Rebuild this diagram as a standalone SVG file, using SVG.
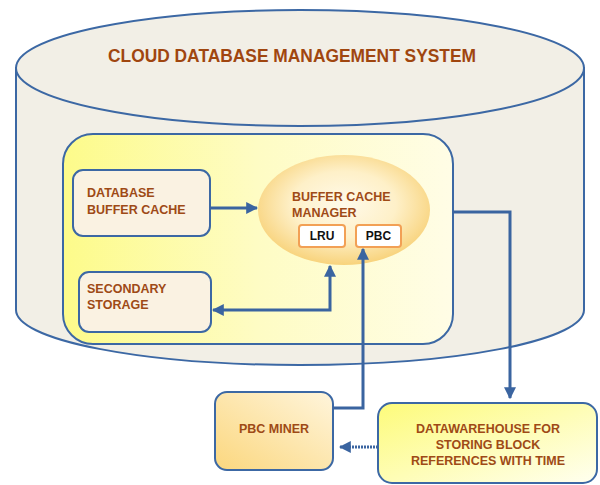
<svg xmlns="http://www.w3.org/2000/svg" width="600" height="485" viewBox="0 0 600 485">
<defs>
<linearGradient id="gInner" x1="0" y1="0" x2="1" y2="0">
<stop offset="0" stop-color="#fdfb8a"/>
<stop offset="0.5" stop-color="#fefcc4"/>
<stop offset="1" stop-color="#fffde6"/>
</linearGradient>
<radialGradient id="gEll" cx="0.5" cy="0.45" r="0.55">
<stop offset="0" stop-color="#fffaea"/>
<stop offset="0.55" stop-color="#fef0c8"/>
<stop offset="1" stop-color="#f8d37c"/>
</radialGradient>
<linearGradient id="gMiner" x1="0" y1="1" x2="1" y2="0">
<stop offset="0" stop-color="#fbd77e"/>
<stop offset="1" stop-color="#fff5dc"/>
</linearGradient>
<linearGradient id="gDW" x1="0" y1="0" x2="1" y2="1">
<stop offset="0" stop-color="#fdfb7a"/>
<stop offset="1" stop-color="#fffff0"/>
</linearGradient>
<marker id="arr" viewBox="0 0 10 10" refX="9" refY="5" markerWidth="4" markerHeight="4" orient="auto-start-reverse" markerUnits="strokeWidth">
<path d="M0,0 L10,5 L0,10 z" fill="#3a64a0"/>
</marker>
</defs>
<style>
.cyl{fill:#f2efe6;stroke:#3c68a4;stroke-width:2}
.box{fill:#faf2e2;stroke:#3c68a4;stroke-width:2}
.lbl{font-family:"Liberation Sans",Arial,sans-serif;font-weight:bold;fill:#9e4a16;font-size:12.5px}
.tag{fill:#ffffff;stroke:#f2a055;stroke-width:2}
.tagt{font-family:"Liberation Sans",Arial,sans-serif;font-weight:bold;fill:#111;font-size:12px}
.con{fill:none;stroke:#3a64a0;stroke-width:3}
</style>
<g id="cylinder">
<path class="cyl" d="M16,68 L16,310 A284,55 0 0 0 584,310 L584,68 Z"/>
<ellipse class="cyl" cx="300" cy="68" rx="284" ry="58"/>
<text x="292" y="62" text-anchor="middle" font-family="Liberation Sans,Arial,sans-serif" font-weight="bold" font-size="18" fill="#a0460f" textLength="368" lengthAdjust="spacingAndGlyphs">CLOUD DATABASE MANAGEMENT SYSTEM</text>
</g>
<g id="inner">
<rect x="63" y="134" width="390" height="210" rx="30" fill="url(#gInner)" stroke="#3c68a4" stroke-width="2"/>
</g>
<g id="dbbuffer">
<rect class="box" x="73" y="170" width="137" height="66" rx="10"/>
<text class="lbl" x="87" y="197">DATABASE</text>
<text class="lbl" x="87" y="214">BUFFER CACHE</text>
</g>
<g id="secondary">
<rect class="box" x="79" y="272" width="132" height="60" rx="10"/>
<text class="lbl" x="87" y="293">SECONDARY</text>
<text class="lbl" x="87" y="309">STORAGE</text>
</g>
<g id="manager">
<ellipse cx="344" cy="210" rx="86" ry="55" fill="url(#gEll)"/>
<text class="lbl" x="292" y="201">BUFFER CACHE</text>
<text class="lbl" x="292" y="217">MANAGER</text>
</g>
<g id="lru">
<rect class="tag" x="299" y="225" width="46" height="22" rx="3"/>
<text class="tagt" x="322" y="240" text-anchor="middle">LRU</text>
</g>
<g id="pbc">
<rect class="tag" x="356" y="225" width="45" height="22" rx="3"/>
<text class="tagt" x="378.500" y="240" text-anchor="middle">PBC</text>
</g>
<g id="miner">
<rect x="215" y="392" width="118" height="78" rx="12" fill="url(#gMiner)" stroke="#3c68a4" stroke-width="2"/>
<text class="lbl" x="274" y="433" text-anchor="middle">PBC MINER</text>
</g>
<g id="warehouse">
<rect x="378" y="403" width="219" height="80" rx="14" fill="url(#gDW)" stroke="#3c68a4" stroke-width="2"/>
<text class="lbl" x="488" y="433" text-anchor="middle">DATAWAREHOUSE FOR</text>
<text class="lbl" x="488" y="449" text-anchor="middle">STORING BLOCK</text>
<text class="lbl" x="488" y="465" text-anchor="middle">REFERENCES  WITH TIME</text>
</g>
<g id="connectors">
<path class="con" d="M210,208 L257,208" marker-end="url(#arr)"/>
<path class="con" d="M213,310 L330,310 L330,266" marker-start="url(#arr)" marker-end="url(#arr)" stroke-width="2.500"/>
<path class="con" d="M333,408 L363,408 L363,249" marker-end="url(#arr)" stroke-width="2.500"/>
<path class="con" d="M453,212 L510,212 L510,398" marker-end="url(#arr)"/>
<path class="con" d="M378,447 L340,447" marker-end="url(#arr)" stroke-dasharray="2 1" stroke-width="2.500"/>
</g>
</svg>
